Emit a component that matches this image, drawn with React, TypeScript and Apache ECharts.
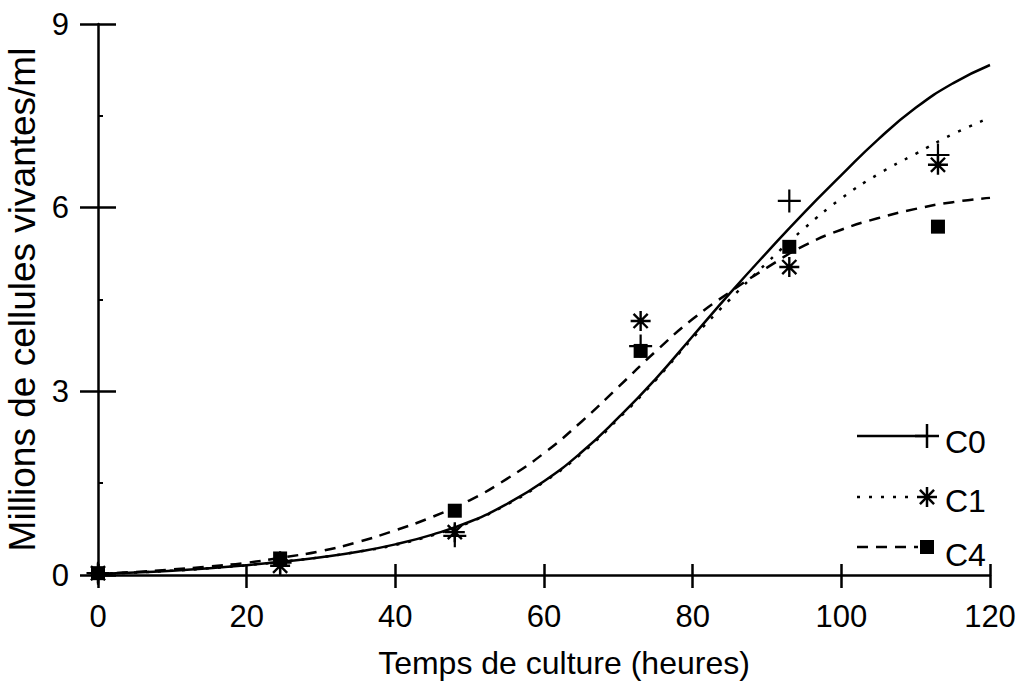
import React, { useEffect, useRef } from "react";
import * as echarts from "echarts";

// Observed points (hours, millions of living cells / ml)
const obsHours = [0, 24.5, 48, 73, 93, 113];
const c0Obs = [0.03, 0.2, 0.64, 3.74, 6.11, 6.86];
const c1Obs = [0.03, 0.15, 0.7, 4.15, 5.03, 6.7];
const c4Obs = [0.03, 0.27, 1.05, 3.66, 5.36, 5.69];

// Fitted curves (every 5 hours)
const fitHours = [0, 5, 10, 15, 20, 25, 30, 35, 40, 45, 50, 55, 60, 65, 70, 75, 80, 85, 90, 95, 100, 105, 110, 115, 120];
const c0Fit = [0.02, 0.04, 0.07, 0.11, 0.16, 0.22, 0.29, 0.38, 0.5, 0.66, 0.87, 1.16, 1.53, 2.0, 2.57, 3.2, 3.9, 4.6, 5.27, 5.92, 6.53, 7.12, 7.63, 8.03, 8.33];
const c1Fit = [0.02, 0.04, 0.07, 0.11, 0.16, 0.22, 0.29, 0.38, 0.49, 0.65, 0.86, 1.15, 1.52, 1.98, 2.55, 3.18, 3.87, 4.5, 5.1, 5.66, 6.15, 6.55, 6.88, 7.2, 7.47];
const c4Fit = [0.02, 0.05, 0.09, 0.14, 0.2, 0.29, 0.39, 0.54, 0.73, 0.95, 1.22, 1.57, 1.99, 2.5, 3.07, 3.65, 4.18, 4.62, 5.02, 5.38, 5.64, 5.83, 5.98, 6.09, 6.16];

const seriesNames = ["C0", "C1", "C4"];
const xTitle = "Temps de culture (heures)";
const yTitle = "Millions de cellules vivantes/ml";

const FONT = '"Liberation Sans", Arial, Helvetica, sans-serif';

const PLUS =
  "path://M-1.1,-11.5 L-1.1,11.5 L1.1,11.5 L1.1,-11.5 Z M-11.5,-1.1 L-11.5,1.1 L11.5,1.1 L11.5,-1.1 Z";
const STAR =
  "path://M-1.2,-10 L-1.2,10 L1.2,10 L1.2,-10 Z M-10,-1.2 L-10,1.2 L10,1.2 L10,-1.2 Z " +
  "M6.22,7.92 L7.92,6.22 L-6.22,-7.92 L-7.92,-6.22 Z M7.92,-6.22 L6.22,-7.92 L-7.92,6.22 L-6.22,7.92 Z";

const zip = (xs: number[], ys: number[]) => xs.map((x, i) => [x, ys[i]]);

export default function App() {
  const ref = useRef<HTMLDivElement>(null);
  useEffect(() => {
    if (!ref.current) return;
    const chart = echarts.init(ref.current, null, { renderer: "svg" });
    const black = "#000";
    const lineSeries = (name: string, data: number[], type: any) => ({
      type: "line",
      name,
      data: zip(fitHours, data),
      smooth: true,
      showSymbol: false,
      symbol: "none",
      lineStyle: { color: black, width: 2.5, type },
      z: 2,
    });
    const pointSeries = (name: string, data: number[], symbol: string, size: number) => ({
      type: "scatter",
      name,
      data: zip(obsHours, data),
      symbol,
      symbolSize: size,
      itemStyle: { color: black, opacity: 1 },
      z: 3,
    });
    const lx1 = 857;
    const mx = 927;
    const legendY = [436, 497, 547];
    const txt = (s: string, y: number) => ({
      type: "text",
      x: 945,
      y,
      style: { text: s, fontSize: 32, fontFamily: FONT, fill: black, verticalAlign: "middle" },
    });
    const ln = (x1: number, y1: number, x2: number, y2: number, dash?: number[]) => ({
      type: "line",
      shape: { x1, y1, x2, y2 },
      style: { stroke: black, lineWidth: 2.5, lineDash: dash },
    });
    const r = 10;
    const d = 7.07;
    const option: any = {
      animation: false,
      backgroundColor: "#fff",
      grid: { left: 98, right: 34, top: 24, bottom: 120, outerBoundsMode: "none" },
      xAxis: [
        {
          type: "value",
          min: 0,
          max: 120,
          interval: 20,
          position: "bottom",
          name: xTitle,
          nameLocation: "middle",
          nameGap: 72,
          nameTextStyle: { fontSize: 32, fontFamily: FONT, color: black, padding: [0, 0, 0, 40] },
          axisLine: { show: true, lineStyle: { color: black, width: 2.5 } },
          axisTick: { show: true, inside: false, length: 13, lineStyle: { color: black, width: 2.5 } },
          axisLabel: { fontSize: 31, fontFamily: FONT, color: black, margin: 26 },
          splitLine: { show: false },
        },
        {
          type: "value",
          min: 0,
          max: 120,
          interval: 20,
          position: "bottom",
          offset: 0,
          axisLine: { show: false },
          axisTick: { show: true, inside: true, length: 11, lineStyle: { color: black, width: 2.5 } },
          axisLabel: { show: false },
          splitLine: { show: false },
        },
      ],
      yAxis: [
        {
          type: "value",
          min: 0,
          max: 9,
          interval: 3,
          position: "left",
          name: yTitle,
          nameLocation: "middle",
          nameGap: 50,
          nameTextStyle: { fontSize: 37, fontFamily: FONT, color: black },
          axisLine: { show: true, lineStyle: { color: black, width: 2.5 } },
          axisTick: { show: true, inside: false, length: 18, lineStyle: { color: black, width: 2.5 } },
          axisLabel: { fontSize: 31, fontFamily: FONT, color: black, margin: 29 },
          splitLine: { show: false },
        },
        {
          type: "value",
          min: 0,
          max: 9,
          interval: 3,
          position: "left",
          offset: 0,
          axisLine: { show: false },
          axisTick: { show: true, inside: true, length: 18, lineStyle: { color: black, width: 2.5 } },
          minorTick: { show: true, splitNumber: 2, length: 5, lineStyle: { color: black, width: 2 } },
          axisLabel: { show: false },
          splitLine: { show: false },
          minorSplitLine: { show: false },
        },
      ],
      series: [
        lineSeries(seriesNames[0], c0Fit, "solid"),
        lineSeries(seriesNames[1], c1Fit, [3, 9]),
        lineSeries(seriesNames[2], c4Fit, [11, 8]),
        pointSeries(seriesNames[0], c0Obs, PLUS, 23),
        pointSeries(seriesNames[1], c1Obs, STAR, 20),
        pointSeries(seriesNames[2], c4Obs, "rect", 14),
      ],
      graphic: [
        {
          type: "group",
          children: [
            ln(lx1, legendY[0], mx, legendY[0]),
            ln(mx - 12, legendY[0], mx + 12, legendY[0]),
            ln(mx, legendY[0] - 12, mx, legendY[0] + 12),
            txt(seriesNames[0], legendY[0] + 6),
            ln(lx1, legendY[1], mx - 10, legendY[1], [3, 9]),
            ln(mx - r, legendY[1], mx + r, legendY[1]),
            ln(mx, legendY[1] - r, mx, legendY[1] + r),
            ln(mx - d, legendY[1] - d, mx + d, legendY[1] + d),
            ln(mx - d, legendY[1] + d, mx + d, legendY[1] - d),
            txt(seriesNames[1], legendY[1] + 4),
            ln(lx1, legendY[2], mx - 9, legendY[2], [11, 8]),
            {
              type: "rect",
              shape: { x: mx - 7, y: legendY[2] - 7, width: 14, height: 14 },
              style: { fill: black },
            },
            txt(seriesNames[2], legendY[2] + 8),
          ],
        },
      ],
    };
    chart.setOption(option);
    return () => chart.dispose();
  }, []);
  return (
    <div
      ref={ref}
      style={{ position: "absolute", left: 0, top: 0, width: 1024, height: 695, background: "#fff" }}
    />
  );
}
